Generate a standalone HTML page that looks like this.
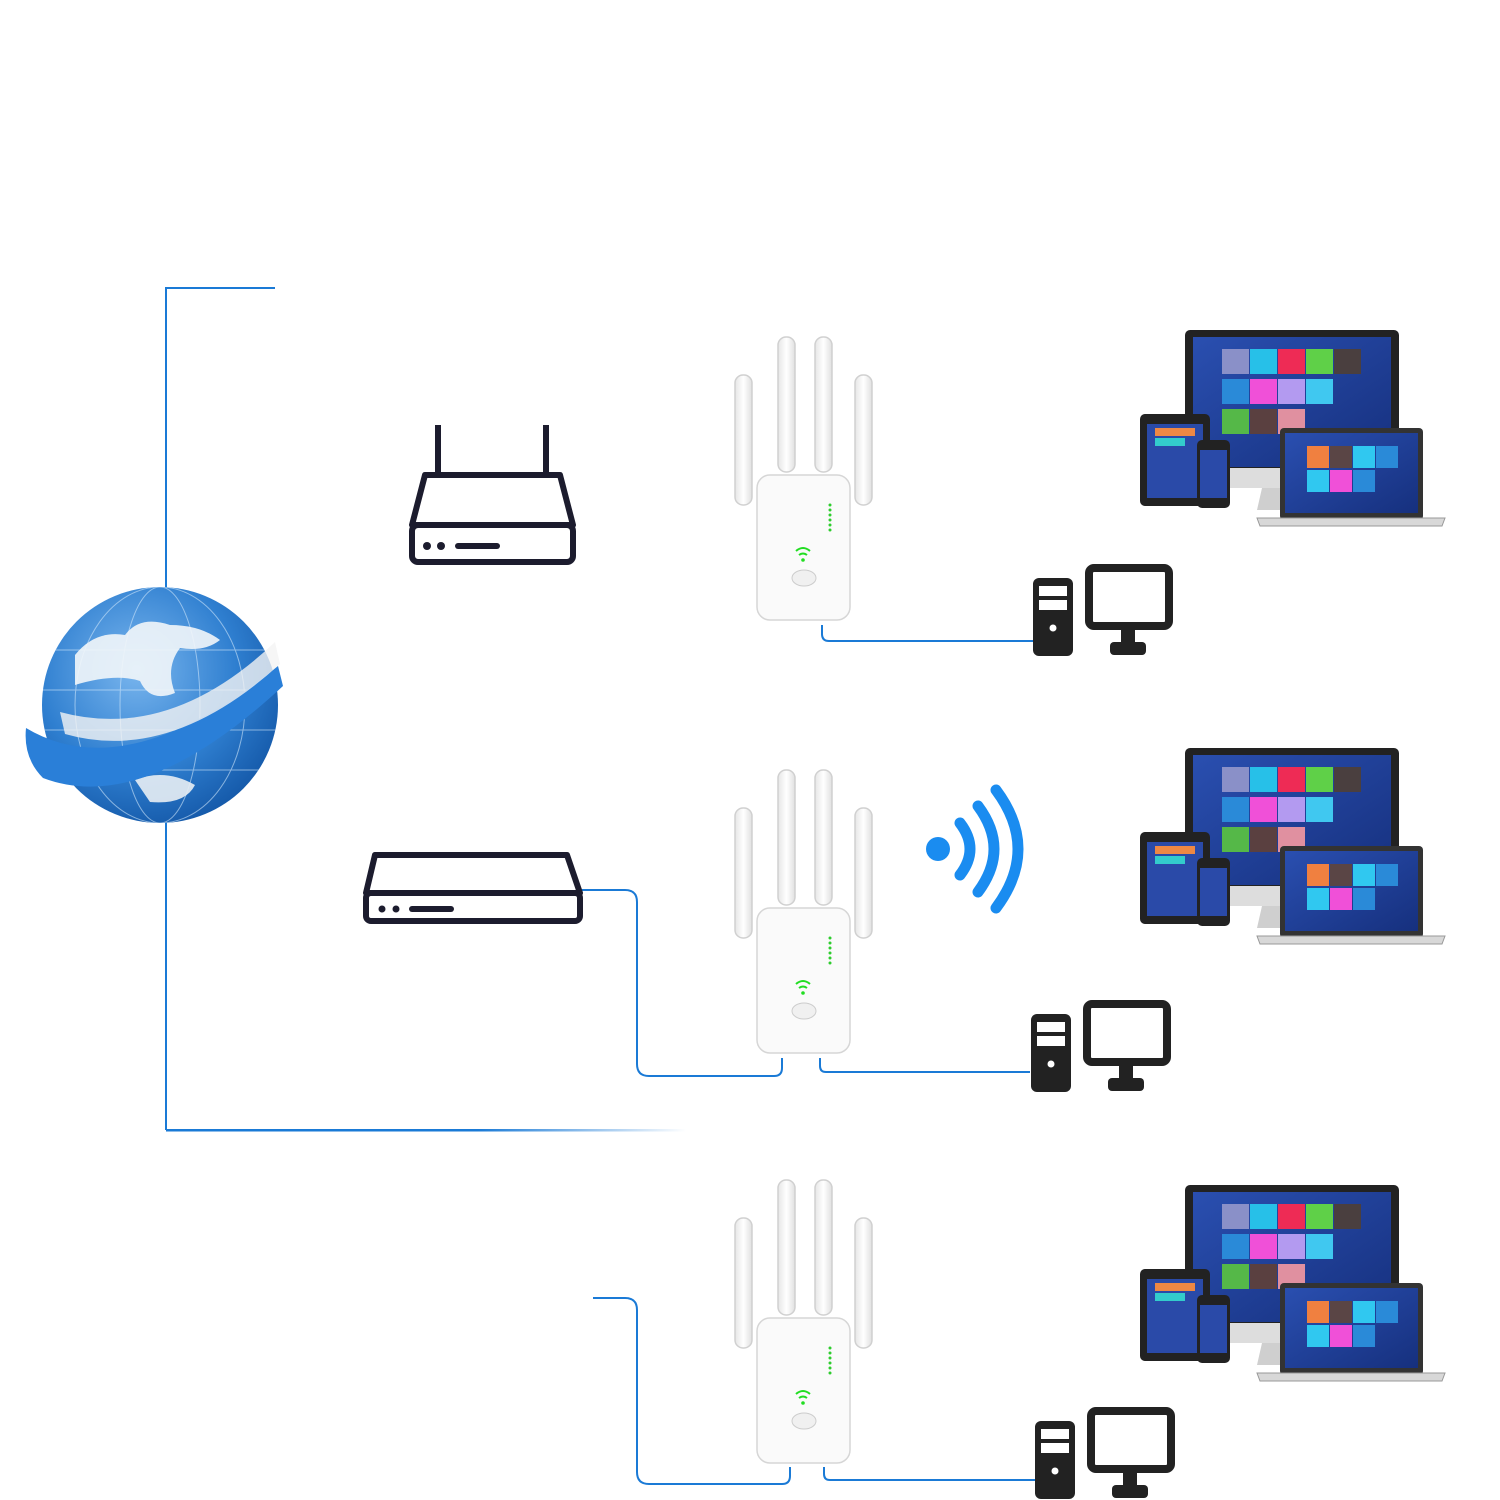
<!DOCTYPE html>
<html><head><meta charset="utf-8"><style>body{margin:0;background:#fff}svg{display:block}</style></head><body>
<svg width="1500" height="1500" viewBox="0 0 1500 1500" xmlns="http://www.w3.org/2000/svg">
<defs>
<linearGradient id="fade" x1="0" x2="1"><stop offset="0" stop-color="#1a7ad6"/><stop offset="0.6" stop-color="#1a7ad6"/><stop offset="1" stop-color="#1a7ad6" stop-opacity="0"/></linearGradient>
<radialGradient id="glb" cx="0.4" cy="0.35" r="0.7"><stop offset="0" stop-color="#7ab6ee"/><stop offset="0.6" stop-color="#2f7fd0"/><stop offset="1" stop-color="#1458a8"/></radialGradient>
<linearGradient id="scr" x1="0" y1="0" x2="1" y2="1"><stop offset="0" stop-color="#2a4fb0"/><stop offset="1" stop-color="#16307e"/></linearGradient>
<linearGradient id="ant" x1="0" x2="1"><stop offset="0" stop-color="#e6e6e6"/><stop offset="0.5" stop-color="#ffffff"/><stop offset="1" stop-color="#e0e0e0"/></linearGradient>
<g id="rep">
 <g fill="url(#ant)" stroke="#d0d0d0" stroke-width="1.5">
  <rect x="735" y="375" width="17" height="130" rx="8"/>
  <rect x="855" y="375" width="17" height="130" rx="8"/>
  <rect x="778" y="337" width="17" height="135" rx="8"/>
  <rect x="815" y="337" width="17" height="135" rx="8"/>
 </g>
 <rect x="757" y="475" width="93" height="145" rx="13" fill="#fafafa" stroke="#d6d6d6" stroke-width="1.5"/>
 <g fill="#2ecc2e"><circle cx="830" cy="505" r="1.5"/><circle cx="830" cy="510" r="1.5"/><circle cx="830" cy="515" r="1.5"/><circle cx="830" cy="520" r="1.5"/><circle cx="830" cy="525" r="1.5"/><circle cx="830" cy="530" r="1.5"/></g>
 <g fill="none" stroke="#22dd22" stroke-width="2"><path d="M796 551 q7 -6 14 0"/><path d="M799 555 q4 -3 8 0"/></g>
 <circle cx="803" cy="560" r="1.8" fill="#22dd22"/>
 <ellipse cx="804" cy="578" rx="12" ry="8" fill="#f0f0f0" stroke="#ccc"/>
</g>
<g id="devs">
 <rect x="1185" y="330" width="214" height="150" rx="5" fill="#222"/>
 <rect x="1193" y="337" width="198" height="130" fill="url(#scr)"/>
 <rect x="1185" y="468" width="214" height="20" fill="#ddd"/>
 <path d="M1262 488 h60 l5 22 h-70z" fill="#cfcfcf"/>
 <g>
  <rect x="1222" y="349" width="27" height="25" fill="#8a90c8"/><rect x="1250" y="349" width="27" height="25" fill="#27c0e8"/><rect x="1278" y="349" width="27" height="25" fill="#ee2b55"/><rect x="1306" y="349" width="27" height="25" fill="#5fd048"/><rect x="1334" y="349" width="27" height="25" fill="#4a3f3f"/>
  <rect x="1222" y="379" width="27" height="25" fill="#2a8ad8"/><rect x="1250" y="379" width="27" height="25" fill="#f050d8"/><rect x="1278" y="379" width="27" height="25" fill="#b39af0"/><rect x="1306" y="379" width="27" height="25" fill="#40c8f0"/>
  <rect x="1222" y="409" width="27" height="25" fill="#55b848"/><rect x="1250" y="409" width="27" height="25" fill="#5a4040"/><rect x="1278" y="409" width="27" height="25" fill="#e090a0"/>
 </g>
 <rect x="1140" y="414" width="70" height="92" rx="5" fill="#222"/>
 <rect x="1147" y="424" width="56" height="74" fill="#2a4aa8"/>
 <rect x="1155" y="428" width="40" height="8" fill="#e84"/><rect x="1155" y="438" width="30" height="8" fill="#3cc"/>
 <rect x="1197" y="440" width="33" height="68" rx="5" fill="#222"/>
 <rect x="1200" y="450" width="27" height="48" fill="#2a4aa8"/>
 <rect x="1280" y="428" width="143" height="92" rx="4" fill="#333"/>
 <rect x="1285" y="433" width="133" height="80" fill="url(#scr)"/>
 <rect x="1307" y="446" width="22" height="22" fill="#f08040"/><rect x="1330" y="446" width="22" height="22" fill="#5a4545"/><rect x="1353" y="446" width="22" height="22" fill="#30c8f0"/><rect x="1376" y="446" width="22" height="22" fill="#2a8ad8"/>
 <rect x="1307" y="470" width="22" height="22" fill="#30c8f0"/><rect x="1330" y="470" width="22" height="22" fill="#f050d8"/><rect x="1353" y="470" width="22" height="22" fill="#2a8ad8"/>
 <path d="M1257 518 h188 l-3 8 h-182z" fill="#d8d8d8" stroke="#999" stroke-width="1"/>
</g>
<g id="pc">
 <rect x="1033" y="578" width="40" height="78" rx="6" fill="#222"/>
 <rect x="1039" y="586" width="28" height="10" fill="#fff"/><rect x="1039" y="600" width="28" height="10" fill="#fff"/>
 <circle cx="1053" cy="628" r="3.5" fill="#fff"/>
 <rect x="1089" y="568" width="80" height="58" rx="5" fill="none" stroke="#222" stroke-width="8"/>
 <rect x="1121" y="630" width="14" height="14" fill="#222"/>
 <rect x="1110" y="642" width="36" height="13" rx="4" fill="#222"/>
</g>
<clipPath id="gc"><circle cx="160" cy="705" r="118"/></clipPath>
</defs>

<g fill="none" stroke="#1a7ad6" stroke-width="2">
 <path d="M275 288 H166 V1130"/>
 <path d="M822 625 V634 q0 7 7 7 H1033"/>
 <path d="M582 890 H625 q12 0 12 12 V1064 q0 12 12 12 H774 q8 0 8 -8 V1058"/>
 <path d="M820 1058 V1066 q0 6 6 6 H1030"/>
 <path d="M593 1298 H625 q12 0 12 12 V1472 q0 12 12 12 H782 q8 0 8 -8 V1467"/>
 <path d="M824 1467 V1474 q0 6 6 6 H1035"/>
</g>
<rect x="166" y="1129" width="520" height="2.5" fill="url(#fade)"/>

<!-- globe -->
<circle cx="160" cy="705" r="118" fill="url(#glb)"/>
<g clip-path="url(#gc)">
<g stroke="#cfe6fa" stroke-width="1" opacity="0.6" fill="none">
 <path d="M40 650 H290 M40 690 H290 M40 730 H290 M40 770 H290"/>
 <ellipse cx="160" cy="705" rx="40" ry="118"/><ellipse cx="160" cy="705" rx="85" ry="118"/>
</g>
<path d="M75 655 q20 -25 50 -20 q15 -20 45 -10 q30 0 50 15 q-15 12 -40 8 q-15 20 -5 45 q-25 10 -35 -12 q-25 -8 -65 4z" fill="#f2f6fa" opacity="0.9"/>
<path d="M135 780 q30 -12 60 5 q-10 20 -45 17z" fill="#e8eef4" opacity="0.9"/>
</g>
<path d="M26 728 q100 60 252 -62 l5 20 q-140 130 -240 92 q-20 -20 -17 -50z" fill="#2a7fd8"/>
<path d="M60 712 q110 30 215 -70 l5 22 q-110 100 -215 70z" fill="#f4f4f4" opacity="0.8"/>

<!-- router -->
<g fill="none" stroke="#1c1c2e" stroke-width="6" stroke-linejoin="round">
 <path d="M438 425 V475 M546 425 V475"/>
 <path d="M425 475 H560 L573 525 H412 Z"/>
 <rect x="412" y="525" width="161" height="37" rx="6"/>
 <path d="M375 855 H567 L580 893 H366 Z"/>
 <rect x="366" y="893" width="214" height="28" rx="5"/>
</g>
<g fill="#1c1c2e"><circle cx="427" cy="546" r="4"/><circle cx="441" cy="546" r="4"/><rect x="455" y="543" width="45" height="6" rx="3"/>
<circle cx="382" cy="909" r="3.5"/><circle cx="396" cy="909" r="3.5"/><rect x="409" y="906" width="45" height="6" rx="3"/></g>

<use href="#rep"/>
<use href="#rep" y="433"/>
<use href="#rep" y="843"/>
<use href="#devs"/>
<use href="#devs" y="418"/>
<use href="#devs" y="855"/>
<use href="#pc"/>
<use href="#pc" x="-2" y="436"/>
<use href="#pc" x="2" y="843"/>

<!-- wifi -->
<circle cx="938" cy="849" r="12" fill="#1a8cf0"/>
<g fill="none" stroke="#1a8cf0" stroke-width="11" stroke-linecap="round">
 <path d="M960 823 q20 26 0 52"/>
 <path d="M978 806 q32 43 0 86"/>
 <path d="M996 790 q44 59 0 118"/>
</g>
</svg>
</body></html>
